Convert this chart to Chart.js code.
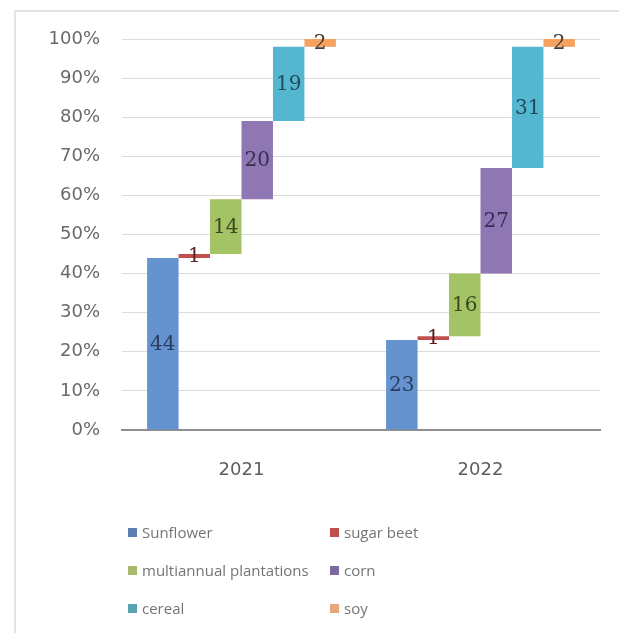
<!DOCTYPE html>
<html>
<head>
<meta charset="utf-8">
<script src="https://cdn.jsdelivr.net/npm/chart.js@4/dist/chart.umd.min.js"></script>
<style>
    html, body { margin: 0; padding: 0; background: #fff; overflow: hidden; }
    #frame {
        position: absolute; left: 14px; top: 10px; width: 700px; height: 700px;
        border-left: 2px solid #e3e3e3; border-top: 2px solid #e3e3e3;
    }
    #canvas { position: absolute; left: 0; top: 0; }
    #legend {
        position: absolute; left: 128px; top: 523px;
        display: grid; grid-template-columns: 202px 200px; row-gap: 20px;
        font-family: 'Open Sans', sans-serif; font-size: 15px; color: #747474;
    }
    #legend div { display: flex; align-items: center; height: 18px; white-space: nowrap; }
    #legend span.box { display: inline-block; width: 9px; height: 9px; margin-right: 5px; }
</style>
</head>
<body>
<div id="frame"></div>
<canvas id="canvas" width="619" height="633"></canvas>
<div id="legend"></div>
<script>
var years = ['2021', '2022'];
var seriesNames = ['Sunflower', 'sugar beet', 'multiannual plantations', 'corn', 'cereal', 'soy'];
var sunflower = [44, 23];
var sugarBeet = [1, 1];
var multiannual = [14, 16];
var corn = [20, 27];
var cereal = [19, 31];
var soy = [2, 2];
var yTicks = [0, 10, 20, 30, 40, 50, 60, 70, 80, 90, 100];

var shares = [sunflower, sugarBeet, multiannual, corn, cereal, soy];
var fillColors = ['#6593d0', '#c0504d', '#a4c364', '#8f77b3', '#55b6d0', '#f5a261'];
var legendColors = ['#5a7fb0', '#c0504d', '#a9b96a', '#7a6aa0', '#5aa3b0', '#e8a77a'];
var labelColors = ['#2a3d5c', '#5a1f1e', '#3a4a1e', '#3a2d52', '#1f4a5a', '#4a3a2a'];

// each series floats on top of the running total of the ones before it
var running = years.map(function () { return 0; });
var datasets = shares.map(function (vals, i) {
    var ranges = vals.map(function (v, j) {
        var r = [running[j], running[j] + v];
        running[j] += v;
        return r;
    });
    return {
        label: seriesNames[i],
        data: ranges,
        shares: vals,
        backgroundColor: fillColors[i],
        borderWidth: 0,
        categoryPercentage: 0.79,
        barPercentage: 1.0
    };
});

var valueLabels = {
    id: 'valueLabels',
    afterDatasetsDraw: function (chart) {
        var ctx = chart.ctx;
        ctx.save();
        ctx.font = '20px "DejaVu Serif", serif';
        ctx.textAlign = 'center';
        ctx.textBaseline = 'middle';
        chart.data.datasets.forEach(function (ds, i) {
            chart.getDatasetMeta(i).data.forEach(function (bar, j) {
                ctx.fillStyle = labelColors[i];
                ctx.fillText(String(ds.shares[j]), bar.x, (bar.y + bar.base) / 2 + 1);
            });
        });
        ctx.restore();
    }
};

var chart = new Chart(document.getElementById('canvas'), {
    type: 'bar',
    data: { labels: years, datasets: datasets },
    options: {
        responsive: false,
        animation: false,
        layout: { padding: { top: 39, right: 19, left: 0, bottom: 0 } },
        plugins: { legend: { display: false }, tooltip: { enabled: false } },
        scales: {
            x: {
                grid: { display: false, drawTicks: false },
                border: { display: true, color: '#8e8e8e', width: 2 },
                ticks: { padding: 30, color: '#5e5e5e', font: { family: 'DejaVu Sans', size: 18 } },
                afterFit: function (axis) { axis.height = 203; }
            },
            y: {
                min: 0,
                max: 100,
                afterBuildTicks: function (axis) {
                    axis.ticks = yTicks.map(function (v) { return { value: v }; });
                },
                grid: { color: '#dcdcdc', lineWidth: 1, drawTicks: false },
                border: { display: false },
                ticks: {
                    padding: 22,
                    color: '#6a6a6a',
                    font: { family: 'DejaVu Sans', size: 18 },
                    callback: function (v) { return v + '%'; }
                },
                afterFit: function (axis) { axis.width = 122; }
            }
        }
    },
    plugins: [valueLabels]
});

var legend = document.getElementById('legend');
seriesNames.forEach(function (name, i) {
    var item = document.createElement('div');
    item.innerHTML = '<span class="box" style="background:' + legendColors[i] + '"></span>' + name;
    legend.appendChild(item);
});
</script>
</body>
</html>
